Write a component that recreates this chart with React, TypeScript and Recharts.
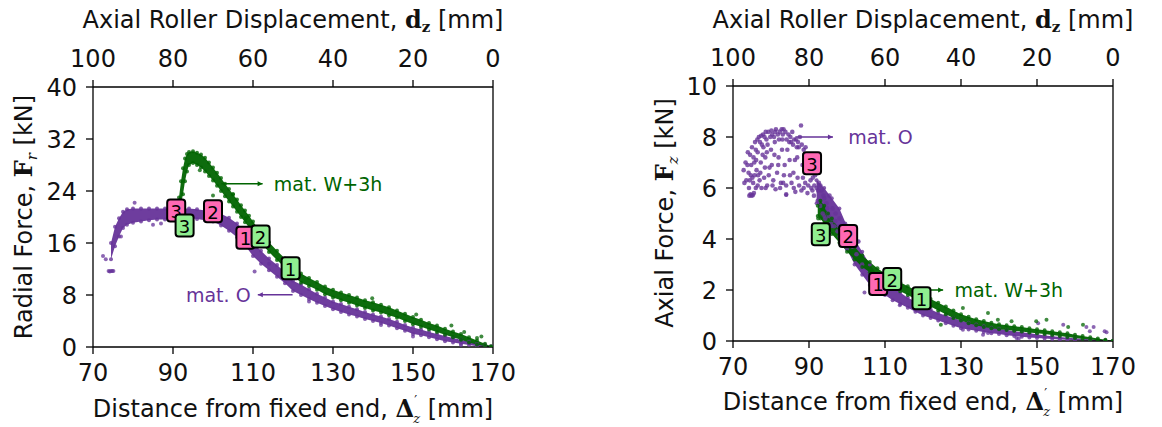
import React from "react";
import { ComposedChart, Area, Scatter, XAxis, YAxis, ReferenceLine } from "recharts";

const PURPLE = "#663399";
const GREEN = "#006400";
const PINK = "#ff69b4";
const LIGHT_GREEN = "#90ee90";
const FONT = "DejaVu Sans, sans-serif";
const SERIF = "DejaVu Serif, serif";

const xTicks = [70, 90, 110, 130, 150, 170];
const radialTicks = [0, 8, 16, 24, 32, 40];
const axialTicks = [0, 2, 4, 6, 8, 10];

// [distance, low, high] of the dense bands
const radialBandO: [number, number, number][] = [
  [74.5, 13.5, 16.0], [75.5, 15.5, 18.5], [76.5, 17.0, 19.8], [77.5, 18.3, 20.8], [78.5, 18.8, 21.2],
  [80, 19.1, 21.3], [82, 19.3, 21.3], [84, 19.5, 21.3], [86, 19.6, 21.3], [88, 19.6, 21.3],
  [90, 19.7, 21.3], [92, 19.8, 21.3], [94, 19.8, 21.3], [96, 19.7, 21.2], [98, 19.5, 21.0],
  [100, 19.3, 20.9], [102, 18.7, 20.5], [104, 17.9, 19.9], [106, 16.9, 19.0], [108, 15.6, 17.8],
  [110, 14.0, 16.0], [112, 12.8, 14.8], [114, 11.8, 13.6], [116, 10.8, 12.6], [118, 9.8, 11.5],
  [120, 8.6, 10.2], [122, 8.0, 9.6], [124, 7.4, 8.9], [126, 6.8, 8.2], [128, 6.3, 7.6],
  [130, 5.8, 7.0], [132, 5.4, 6.6], [134, 5.0, 6.2], [136, 4.7, 5.8], [138, 4.3, 5.4],
  [140, 4.0, 5.0], [142, 3.7, 4.7], [144, 3.3, 4.3], [146, 2.9, 3.9], [148, 2.5, 3.4],
  [150, 2.0, 3.0], [152, 1.8, 2.7], [154, 1.5, 2.3], [156, 1.2, 2.0], [158, 0.9, 1.7],
  [160, 0.7, 1.4], [162, 0.5, 1.1], [164, 0.3, 0.8], [166, 0.1, 0.5], [168, 0.0, 0.3], [169.5, 0.0, 0.1],
];

const radialBandW: [number, number, number][] = [
  [91.0, 20.5, 21.5], [91.5, 21.0, 23.0], [92.0, 22.0, 25.5], [92.5, 23.5, 27.5], [93.0, 25.5, 29.0],
  [93.5, 27.0, 29.7], [94, 28.0, 30.0], [95, 28.3, 30.1], [96, 28.0, 29.9], [97, 27.6, 29.6],
  [98, 27.0, 29.1], [99, 26.3, 28.4], [100, 25.6, 27.6], [101, 24.8, 26.8], [102, 24.0, 26.0],
  [103, 23.2, 25.1], [104, 22.4, 24.3], [105, 21.6, 23.5], [106, 20.8, 22.7], [107, 20.0, 21.8],
  [108, 19.2, 21.0], [109, 18.4, 20.2], [110, 17.5, 19.3], [112, 16.0, 17.6], [114, 14.6, 16.1],
  [116, 13.4, 14.8], [118, 12.2, 13.6], [120, 11.0, 12.4], [122, 9.9, 11.3], [124, 9.4, 10.6],
  [126, 8.8, 10.0], [128, 8.1, 9.3], [130, 7.6, 8.8], [132, 7.2, 8.4], [134, 6.8, 8.0],
  [136, 6.4, 7.6], [138, 6.0, 7.2], [140, 5.6, 6.9], [142, 5.3, 6.5], [144, 4.9, 6.1],
  [146, 4.5, 5.6], [148, 4.0, 5.1], [150, 3.5, 4.6], [152, 3.1, 4.2], [154, 2.7, 3.7],
  [156, 2.3, 3.3], [158, 1.9, 2.8], [160, 1.5, 2.4], [162, 1.1, 2.0], [164, 0.7, 1.5],
  [166, 0.4, 1.0], [168, 0.1, 0.5], [169.5, 0.0, 0.1],
];

const radialOutO: [number, number][] = [
  [72.5, 14.0], [73.2, 13.5], [73.9, 11.7], [74.2, 11.6], [74.5, 11.7], [74.8, 11.7], [75.1, 11.7],
  [77.0, 17.0], [80.4, 22.2], [85.0, 18.8], [87.0, 19.0], [110.4, 11.6], [114.0, 12.8],
  [124.0, 7.0], [142.0, 3.4], [150.0, 1.6], [162.0, 0.3],
];

const radialOutW: [number, number][] = [
  [91.2, 20.6], [91.7, 22.5], [96.7, 27.2], [100.0, 23.3], [105.0, 23.5], [108.2, 19.8],
  [139.8, 7.5], [150.8, 5.0], [159.6, 3.3], [162.8, 2.3], [166.0, 1.4], [167.1, 1.6],
];

const axialCloudO: [number, number][] = [
  [74.3, 5.7], [74.6, 5.75], [74.9, 5.7], [75.2, 5.72], [75.5, 5.8],
  [72.8, 6.7], [73.5, 6.3], [73.8, 6.9], [74.2, 6.0], [74.5, 7.3], [74.7, 6.5], [75.0, 7.6],
  [75.3, 6.2], [75.6, 7.0], [75.8, 7.8], [76.0, 6.0], [76.2, 6.7], [76.5, 7.4], [76.8, 8.0],
  [77.0, 6.3], [77.3, 7.0], [77.6, 7.7], [77.9, 8.1], [78.2, 6.4], [78.5, 7.2], [78.8, 7.9],
  [79.0, 6.1], [79.3, 8.2], [79.6, 6.8], [80.0, 7.5], [80.3, 8.1], [80.6, 6.3], [81.0, 7.8],
  [81.3, 8.3], [81.6, 6.6], [82.0, 7.2], [82.3, 8.2], [82.6, 6.2], [83.0, 7.9], [83.3, 8.3],
  [83.6, 6.9], [84.0, 6.1], [84.0, 5.75], [84.3, 7.5], [84.6, 8.1], [85.0, 6.5], [85.3, 7.8],
  [85.6, 8.2], [86.0, 6.0], [86.3, 7.1], [86.6, 7.9], [87.0, 6.4], [87.3, 7.6], [87.6, 8.0],
  [87.9, 8.45], [88.0, 5.9], [88.3, 6.9], [88.6, 7.5], [89.0, 6.2], [89.3, 7.2], [89.6, 5.8],
  [90.0, 6.7], [90.3, 7.0], [90.6, 6.0], [91.0, 6.4], [91.3, 5.7], [91.6, 6.5], [92.0, 6.0],
  [92.3, 5.5], [92.6, 6.2], [93.0, 5.3], [93.3, 5.9], [93.6, 5.0], [94.0, 5.6], [94.3, 4.8],
  [94.6, 5.4], [95.0, 5.0], [95.4, 5.7], [95.8, 4.6], [96.2, 5.2], [96.6, 4.5], [97.0, 5.0],
  [97.5, 4.3], [98.0, 4.8], [98.5, 4.2],
  [76.0, 7.5], [76.4, 7.9], [77.1, 7.8], [77.4, 8.05], [78.0, 7.6], [78.3, 8.0], [78.6, 8.2],
  [79.1, 7.7], [79.8, 8.0], [80.1, 8.25], [80.8, 8.0], [81.1, 8.2], [81.8, 8.1], [82.1, 7.9],
  [82.8, 8.3], [83.1, 8.1], [83.8, 8.2], [84.1, 7.9], [84.8, 7.8], [85.1, 8.0], [85.8, 7.7],
  [86.1, 7.9], [86.8, 7.6], [87.1, 7.8], [88.1, 7.7], [88.8, 7.3], [89.1, 7.6], [89.8, 7.0],
  [90.1, 7.3], [90.8, 6.8], [91.2, 7.0], [91.8, 6.6], [92.2, 6.8],
  [73.0, 6.2], [73.3, 7.0], [73.9, 7.4], [74.1, 6.6], [74.4, 6.3], [74.8, 6.9], [75.1, 6.4],
  [75.4, 7.2], [75.7, 6.5], [76.1, 7.1], [76.6, 6.5], [77.2, 6.6], [77.8, 7.3], [78.4, 6.8],
  [78.9, 7.4], [79.4, 6.5], [80.2, 6.9], [80.9, 7.3], [81.9, 6.9], [82.9, 7.5], [83.4, 6.5],
  [84.9, 7.1], [85.9, 6.6], [86.9, 7.2], [88.4, 6.4], [89.4, 6.7], [90.4, 6.3], [91.4, 6.1],
  [92.4, 5.9], [93.0, 6.1], [93.8, 5.7], [94.8, 5.2], [95.2, 4.9], [96.0, 4.8], [96.9, 4.7],
  [97.8, 4.5], [98.2, 4.4], [99.0, 4.3], [99.5, 4.6], [100.5, 4.4], [101.0, 4.0], [101.5, 3.7],
  [102.5, 3.4], [103.0, 3.9], [104.0, 3.0],
  [76.5, 6.1], [77.5, 6.0], [78.6, 6.0], [80.4, 6.1], [81.2, 5.95], [82.4, 6.0], [83.2, 6.2],
  [85.4, 6.2], [86.4, 5.85], [87.4, 6.1], [88.6, 6.0], [89.8, 6.1], [90.9, 5.9],
];

const axialBandO: [number, number, number][] = [
  [92, 5.4, 6.3], [94, 4.9, 6.0], [96, 4.5, 5.6], [98, 4.1, 5.2], [100, 3.6, 4.5],
  [102, 3.0, 4.0], [104, 2.6, 3.5], [106, 2.2, 3.0], [108, 2.0, 2.6], [110, 1.8, 2.3],
  [112, 1.6, 2.1], [114, 1.45, 1.9], [116, 1.3, 1.7], [118, 1.15, 1.55], [120, 1.0, 1.4],
  [122, 0.9, 1.25], [124, 0.8, 1.1], [126, 0.7, 1.0], [128, 0.6, 0.9], [130, 0.5, 0.8],
  [132, 0.45, 0.72], [134, 0.4, 0.65], [136, 0.35, 0.58], [138, 0.3, 0.52], [140, 0.27, 0.48],
  [142, 0.23, 0.43], [144, 0.2, 0.38], [146, 0.17, 0.34], [148, 0.14, 0.3], [150, 0.12, 0.26],
  [152, 0.1, 0.22], [154, 0.08, 0.19], [156, 0.06, 0.16], [158, 0.05, 0.13], [160, 0.03, 0.11],
  [164, 0.01, 0.07], [168, 0.0, 0.03], [170, 0.0, 0.01],
];

const axialBandW: [number, number, number][] = [
  [92.3, 4.9, 5.3], [93, 4.8, 5.5], [94, 4.6, 5.3], [95, 4.4, 5.0], [96, 4.2, 4.8],
  [98, 3.85, 4.4], [100, 3.5, 4.0], [102, 3.2, 3.7], [104, 2.9, 3.35], [106, 2.7, 3.1],
  [108, 2.45, 2.85], [110, 2.3, 2.65], [112, 2.1, 2.45], [114, 1.95, 2.3], [116, 1.8, 2.15],
  [118, 1.65, 2.0], [120, 1.5, 1.8], [122, 1.35, 1.65], [124, 1.2, 1.5], [126, 1.05, 1.35],
  [128, 0.9, 1.2], [130, 0.8, 1.05], [132, 0.7, 0.95], [134, 0.62, 0.85], [136, 0.55, 0.78],
  [138, 0.5, 0.72], [140, 0.46, 0.66], [142, 0.43, 0.62], [144, 0.4, 0.58], [146, 0.37, 0.55],
  [148, 0.33, 0.5], [150, 0.3, 0.46], [152, 0.27, 0.42], [154, 0.24, 0.38], [156, 0.2, 0.34],
  [158, 0.16, 0.3], [160, 0.12, 0.25], [162, 0.09, 0.2], [164, 0.06, 0.15], [166, 0.03, 0.1],
  [168, 0.01, 0.05], [170, 0.0, 0.01],
];

const axialOutO: [number, number][] = [
  [84.0, 5.73], [104.6, 1.9], [113.9, 1.4], [130.5, 0.44], [135.8, 0.25], [137.1, 0.31],
  [144.6, 0.12], [145.2, 0.1], [150.3, 0.7], [156.9, 0.64], [163.0, 0.55], [163.9, 0.38],
  [164.9, 0.55], [167.8, 0.38], [168.3, 0.34],
];

const axialOutW: [number, number][] = [
  [92.4, 4.8], [98.9, 4.0], [105.1, 3.05], [124.7, 0.64], [130.5, 1.29], [137.1, 1.1],
  [139.7, 0.83], [143.3, 0.77], [149.8, 0.77], [152.5, 0.83], [158.2, 0.55], [162.1, 0.64],
];

// numbered markers: [distance, force, label]
const radialMarksO: [number, number, string][] = [[90.8, 21.0, "3"], [100.0, 20.9, "2"], [108.1, 16.8, "1"]];
const radialMarksW: [number, number, string][] = [[92.9, 18.7, "3"], [111.9, 17.0, "2"], [119.4, 12.1, "1"]];
const axialMarksO: [number, number, string][] = [[90.8, 6.97, "3"], [100.3, 4.12, "2"], [108.2, 2.24, "1"]];
const axialMarksW: [number, number, string][] = [[93.1, 4.19, "3"], [111.9, 2.43, "2"], [119.6, 1.68, "1"]];

// annotation arrows: [from x, to x (head), y] and label anchor [x, y]
const radialArrowO: [number, number, number] = [119.9, 111.2, 8.05];
const radialArrowW: [number, number, number] = [102.1, 112.4, 25.1];
const radialNoteO: [number, number] = [109.4, 8.05];
const radialNoteW: [number, number] = [115.2, 25.1];
const axialArrowO: [number, number, number] = [86.4, 96.3, 8.0];
const axialArrowW: [number, number, number] = [119.1, 125.3, 2.0];
const axialNoteO: [number, number] = [100.3, 8.0];
const axialNoteW: [number, number] = [128.3, 2.0];

const bandRows = (b: [number, number, number][]) => b.map(([x, lo, hi]) => ({ x, range: [lo, hi] }));
const edgeRows = (b: [number, number, number][]) => b.flatMap(([x, lo, hi]) => [{ x, y: lo }, { x, y: hi }]);
const ptRows = (p: [number, number][]) => p.map(([x, y]) => ({ x, y }));

const dot = (color: string, r: number, op: number) => (p: any) =>
  p.cx == null ? <g /> : <circle cx={p.cx} cy={p.cy} r={r} fill={color} fillOpacity={op} />;

const markShape = (fill: string) => (p: any) => (
  <g>
    <rect x={p.cx - 9} y={p.cy - 11} width={18} height={22} rx={3} fill={fill} stroke="#000" strokeWidth={2} />
    <text x={p.cx} y={p.cy + 1} textAnchor="middle" dominantBaseline="central" fontSize={18} fontFamily={FONT} fill="#000">
      {p.payload.label}
    </text>
  </g>
);

const noteShape = (color: string, text: string, anchor: "start" | "end") => (p: any) => (
  <text x={p.cx} y={p.cy} textAnchor={anchor} dominantBaseline="central" fontSize={19} fontFamily={FONT} fill={color}>
    {text}
  </text>
);

const headShape = (color: string) => (p: any) => {
  const d = p.payload.dir;
  return <path d={`M${p.cx},${p.cy} L${p.cx - 5 * d},${p.cy - 2.5} L${p.cx - 5 * d},${p.cy + 2.5} Z`} fill={color} />;
};

interface PanelProps {
  left: number;
  width: number;
  margin: { top: number; right: number; bottom: number; left: number };
  yMax: number;
  yTicks: number[];
  bandO: [number, number, number][];
  bandW: [number, number, number][];
  cloudO?: [number, number][];
  outO: [number, number][];
  outW: [number, number][];
  marksO: [number, number, string][];
  marksW: [number, number, string][];
  arrowO: [number, number, number];
  arrowW: [number, number, number];
  noteO: [number, number];
  noteW: [number, number];
  anchorO: "start" | "end";
}

function Panel(p: PanelProps) {
  const axisStyle = { stroke: "#000", strokeWidth: 1.3 };
  const tick = { fontSize: 24, fontFamily: FONT, fill: "#111" };
  const arrow = (a: [number, number, number], color: string, key: string) => (
    <ReferenceLine
      key={key}
      segment={[{ x: a[0], y: a[2] }, { x: a[1], y: a[2] }]}
      stroke={color}
      strokeWidth={1.5}
    />
  );
  const head = (a: [number, number, number]) => [{ x: a[1], y: a[2], dir: a[1] > a[0] ? 1 : -1 }];
  return (
    <div style={{ position: "absolute", left: p.left, top: 0 }}>
      <ComposedChart width={p.width} height={427} margin={p.margin}>
        <XAxis
          xAxisId={0}
          dataKey="x"
          type="number"
          domain={[70, 170]}
          ticks={xTicks}
          allowDataOverflow
          height={30}
          tick={tick}
          tickSize={7}
          tickMargin={10}
          axisLine={axisStyle}
          tickLine={axisStyle}
        />
        <XAxis
          xAxisId="top"
          orientation="top"
          dataKey="x"
          type="number"
          domain={[70, 170]}
          ticks={xTicks}
          allowDataOverflow
          height={30}
          tickFormatter={(v: number) => String(170 - v)}
          tick={tick}
          tickSize={7}
          tickMargin={13}
          axisLine={axisStyle}
          tickLine={axisStyle}
        />
        <YAxis
          type="number"
          domain={[0, p.yMax]}
          ticks={p.yTicks}
          allowDataOverflow
          width={50}
          tick={tick}
          tickSize={7}
          tickMargin={9}
          axisLine={axisStyle}
          tickLine={axisStyle}
        />
        <ReferenceLine x={170} stroke="#000" strokeWidth={1.3} />

        <Area data={bandRows(p.bandO)} dataKey="range" type="linear" stroke="none" fill={PURPLE} fillOpacity={0.95} isAnimationActive={false} />
        <Scatter data={edgeRows(p.bandO)} dataKey="y" shape={dot(PURPLE, 2, 0.8)} isAnimationActive={false} />
        {p.cloudO && <Scatter data={ptRows(p.cloudO)} dataKey="y" shape={dot(PURPLE, 2.3, 0.8)} isAnimationActive={false} />}
        <Scatter data={ptRows(p.outO)} dataKey="y" shape={dot(PURPLE, 2, 0.75)} isAnimationActive={false} />

        <Area data={bandRows(p.bandW)} dataKey="range" type="linear" stroke="none" fill={GREEN} fillOpacity={0.95} isAnimationActive={false} />
        <Scatter data={edgeRows(p.bandW)} dataKey="y" shape={dot(GREEN, 2, 0.8)} isAnimationActive={false} />
        <Scatter data={ptRows(p.outW)} dataKey="y" shape={dot(GREEN, 2, 0.75)} isAnimationActive={false} />

        {arrow(p.arrowO, PURPLE, "ao")}
        {arrow(p.arrowW, GREEN, "aw")}
        <Scatter data={head(p.arrowO)} dataKey="y" shape={headShape(PURPLE)} isAnimationActive={false} />
        <Scatter data={head(p.arrowW)} dataKey="y" shape={headShape(GREEN)} isAnimationActive={false} />
        <Scatter data={[{ x: p.noteO[0], y: p.noteO[1] }]} dataKey="y" shape={noteShape(PURPLE, "mat. O", p.anchorO)} isAnimationActive={false} />
        <Scatter data={[{ x: p.noteW[0], y: p.noteW[1] }]} dataKey="y" shape={noteShape(GREEN, "mat. W+3h", "start")} isAnimationActive={false} />

        <Scatter data={p.marksO.map(([x, y, label]) => ({ x, y, label }))} dataKey="y" shape={markShape(PINK)} isAnimationActive={false} />
        <Scatter data={p.marksW.map(([x, y, label]) => ({ x, y, label }))} dataKey="y" shape={markShape(LIGHT_GREEN)} isAnimationActive={false} />
      </ComposedChart>
    </div>
  );
}

function TopTitle({ cx, y }: { cx: number; y: number }) {
  return (
    <text x={cx} y={y} textAnchor="middle" fontSize={24} fontFamily={FONT} fill="#111">
      Axial Roller Displacement,{" "}
      <tspan fontFamily={SERIF} fontWeight="bold">d</tspan>
      <tspan fontFamily={SERIF} fontWeight="bold" fontSize={15} dy={4}>z</tspan>
      <tspan dy={-4}> [mm]</tspan>
    </text>
  );
}

function BottomTitle({ cx, y }: { cx: number; y: number }) {
  return (
    <text x={cx} y={y} textAnchor="middle" fontSize={24} fontFamily={FONT} fill="#111">
      Distance from fixed end,{" "}
      <tspan fontFamily={SERIF} fontWeight="bold">Δ</tspan>
      <tspan fontFamily={SERIF} fontSize={13} dy={-12}>′</tspan>
      <tspan fontFamily={SERIF} fontStyle="italic" fontSize={13} dx={-4} dy={18}>z</tspan>
      <tspan dy={-6}> [mm]</tspan>
    </text>
  );
}

function SideTitle({ x, cy, name, sub }: { x: number; cy: number; name: string; sub: string }) {
  return (
    <text x={x} y={cy} textAnchor="middle" fontSize={24} fontFamily={FONT} fill="#111" transform={`rotate(-90 ${x} ${cy})`}>
      {name},{" "}
      <tspan fontFamily={SERIF} fontWeight="bold">F</tspan>
      <tspan fontFamily={SERIF} fontStyle="italic" fontSize={15} dy={5}>{sub}</tspan>
      <tspan dy={-5}> [kN]</tspan>
    </text>
  );
}

export default function App() {
  return (
    <div style={{ position: "absolute", left: 0, top: 0, width: 1162, height: 427, background: "#fff" }}>
      <Panel
        left={0}
        width={520}
        margin={{ top: 57, right: 27, bottom: 50, left: 43 }}
        yMax={40}
        yTicks={radialTicks}
        bandO={radialBandO}
        bandW={radialBandW}
        outO={radialOutO}
        outW={radialOutW}
        marksO={radialMarksO}
        marksW={radialMarksW}
        arrowO={radialArrowO}
        arrowW={radialArrowW}
        noteO={radialNoteO}
        noteW={radialNoteW}
        anchorO="end"
      />
      <Panel
        left={620}
        width={542}
        margin={{ top: 56, right: 49, bottom: 56, left: 63 }}
        yMax={10}
        yTicks={axialTicks}
        bandO={axialBandO}
        bandW={axialBandW}
        cloudO={axialCloudO}
        outO={axialOutO}
        outW={axialOutW}
        marksO={axialMarksO}
        marksW={axialMarksW}
        arrowO={axialArrowO}
        arrowW={axialArrowW}
        noteO={axialNoteO}
        noteW={axialNoteW}
        anchorO="start"
      />
      <svg width={1162} height={427} style={{ position: "absolute", left: 0, top: 0, pointerEvents: "none" }}>
        <TopTitle cx={293} y={28} />
        <TopTitle cx={923} y={28} />
        <BottomTitle cx={293} y={417} />
        <BottomTitle cx={923} y={410} />
        <SideTitle x={32} cy={217} name="Radial Force" sub="r" />
        <SideTitle x={673} cy={213} name="Axial Force" sub="z" />
      </svg>
    </div>
  );
}
